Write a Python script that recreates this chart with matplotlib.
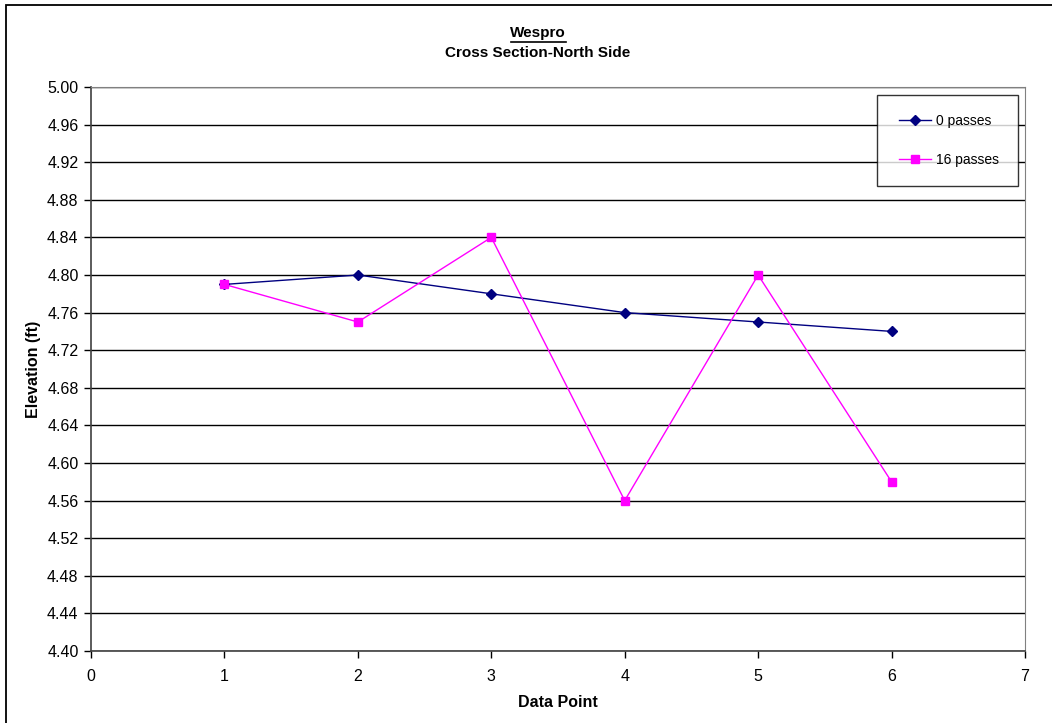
import matplotlib
matplotlib.use('Agg')
import matplotlib.pyplot as plt
from matplotlib.patches import Rectangle
from matplotlib.legend_handler import HandlerLine2D
import numpy as np

plt.rcParams['font.family'] = ['Liberation Sans', 'DejaVu Sans']

# survey elevations along the north side
data_point = [1, 2, 3, 4, 5, 6]
passes_0 = [4.79, 4.80, 4.78, 4.76, 4.75, 4.74]
passes_16 = [4.79, 4.75, 4.84, 4.56, 4.80, 4.58]

y_ticks = np.round(np.arange(4.40, 5.001, 0.04), 2)
x_ticks = [0, 1, 2, 3, 4, 5, 6, 7]

fig = plt.figure(figsize=(10.52, 7.23), dpi=100)
ax = fig.add_axes([91 / 1052, 1 - 651 / 723, (1025 - 91) / 1052, (651 - 87) / 723])

# outer chart border
fig.patches.append(Rectangle((6 / 1052, -0.1), 1.2, 1 - 5 / 723 + 0.1,
                             transform=fig.transFigure, fill=False,
                             edgecolor='black', linewidth=1.3))

for y in y_ticks:
    ax.axhline(y, color='black', linewidth=1.0, zorder=1)

line0, = ax.plot(data_point, passes_0, color='#000080', marker='D', markersize=5,
                 linewidth=1.0, label='0 passes', zorder=3)
line16, = ax.plot(data_point, passes_16, color='#FF00FF', marker='s', markersize=6,
                  linewidth=1.0, label='16 passes', zorder=3)

ax.set_xlim(0, 7)
ax.set_ylim(4.40, 5.00)
ax.set_xticks(x_ticks)
ax.set_yticks(y_ticks)
ax.set_yticklabels(['%.2f' % v for v in y_ticks])
ax.tick_params(axis='both', direction='out', length=5, width=1,
               labelsize=11.5, color='black')
ax.tick_params(axis='x', pad=8)
ax.tick_params(axis='y', pad=4)

for side in ['top', 'right']:
    ax.spines[side].set_color('#808080')
for side in ['left', 'bottom']:
    ax.spines[side].set_color('#404040')
    ax.spines[side].set_linewidth(1.2)

ax.set_xlabel('Data Point', fontsize=11.5, fontweight='bold', labelpad=8)
ax.set_ylabel('Elevation (ft)', fontsize=11.5, fontweight='bold', labelpad=4)

fig.text(0.5115, 1 - 33 / 723, 'Wespro', ha='center', va='center',
         fontsize=11, fontweight='bold')
fig.add_artist(plt.Line2D([511 / 1052, 566 / 1052], [1 - 42 / 723, 1 - 42 / 723],
                          color='black', linewidth=1.2))
fig.text(0.5115, 1 - 53 / 723, 'Cross Section-North Side', ha='center',
         va='center', fontsize=11, fontweight='bold')

# legend: extra gap left of the short handle lines
handler = HandlerLine2D(xpad=0.3)
leg = ax.legend(loc='upper right', bbox_to_anchor=(0.9925, 0.986),
                frameon=True, fancybox=False, fontsize=10, labelspacing=1.85,
                handlelength=2.55, handletextpad=0.4, borderpad=1.35,
                borderaxespad=0,
                handler_map={line0: handler, line16: handler})
leg.get_frame().set_edgecolor('black')
leg.get_frame().set_linewidth(1.0)

fig.savefig('out.png', dpi=100)
